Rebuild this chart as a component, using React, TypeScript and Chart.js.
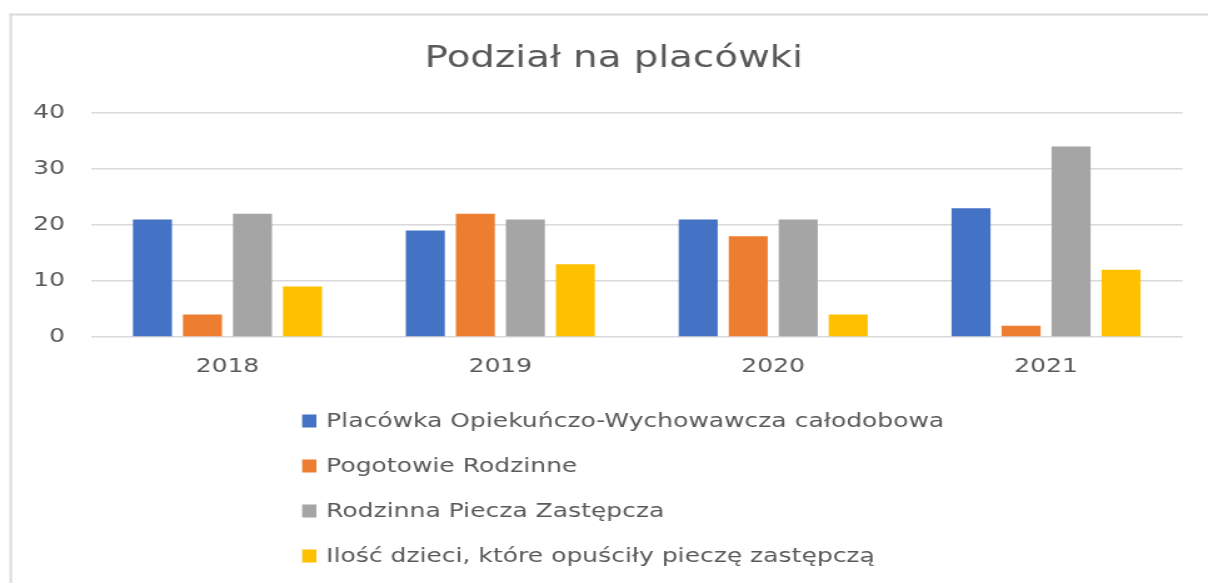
import React, { useEffect, useRef } from "react";
import { Chart, registerables } from "chart.js";

Chart.register(...registerables);

const categories = ["2018", "2019", "2020", "2021"];
const seriesNames = [
  "Placówka Opiekuńczo-Wychowawcza całodobowa",
  "Pogotowie Rodzinne",
  "Rodzinna Piecza Zastępcza",
  "Ilość dzieci, które opuściły pieczę zastępczą",
];
const placowkaValues = [21, 19, 21, 23];
const pogotowieValues = [4, 22, 18, 2];
const rodzinnaValues = [22, 21, 21, 34];
const opuscilyValues = [9, 13, 4, 12];
const yTickValues = [0, 10, 20, 30, 40];
const seriesColors = ["#4472C4", "#ED7D31", "#A5A5A5", "#FFC000"];
const titleText = "Podział na placówki";

const CANVAS_W = 966;
const CANVAS_H = 583;
const STRETCH = 1208 / CANVAS_W;
const TEXT_COLOR = "#595959";
const FONT = '"DejaVu Sans", "Open Sans", sans-serif';

const framePlugin = {
  id: "frame",
  beforeDraw(chart: any) {
    const ctx = chart.ctx;
    ctx.save();
    ctx.fillStyle = "#d9d9d9";
    ctx.fillRect(7.6, 13.5, chart.width, 2);
    ctx.fillRect(7.6, 13.5, 2, chart.height);
    ctx.restore();
  },
};

const titlePlugin = {
  id: "customTitle",
  afterDraw(chart: any) {
    const ctx = chart.ctx;
    ctx.save();
    ctx.font = `31px ${FONT}`;
    ctx.fillStyle = TEXT_COLOR;
    ctx.textAlign = "center";
    ctx.textBaseline = "middle";
    ctx.fillText(titleText, 490.8, 59);
    ctx.restore();
  },
};

const legendRows = [421, 466, 511, 556];

const verticalLegendPlugin = {
  id: "verticalLegend",
  afterDraw(chart: any) {
    const ctx = chart.ctx;
    ctx.save();
    ctx.font = `20px ${FONT}`;
    ctx.textBaseline = "middle";
    ctx.textAlign = "left";
    chart.data.datasets.forEach((ds: any, i: number) => {
      const y = legendRows[i];
      ctx.fillStyle = ds.backgroundColor;
      ctx.fillRect(241.6, y - 6.5, 11.4, 13);
      ctx.fillStyle = TEXT_COLOR;
      ctx.fillText(ds.label, 260.8, y + 1);
    });
    ctx.restore();
  },
};

export default function App() {
  const ref = useRef<HTMLCanvasElement>(null);

  useEffect(() => {
    const valueSets = [placowkaValues, pogotowieValues, rodzinnaValues, opuscilyValues];
    const chart = new Chart(ref.current as HTMLCanvasElement, {
      type: "bar",
      data: {
        labels: categories,
        datasets: seriesNames.map((name, i) => ({
          label: name,
          data: valueSets[i],
          backgroundColor: seriesColors[i],
          borderWidth: 0,
          barPercentage: 0.78,
          categoryPercentage: 0.733,
        })),
      },
      options: {
        responsive: false,
        animation: false,
        devicePixelRatio: 1,
        layout: { padding: { left: 0, right: 20.4, top: 113, bottom: 0 } },
        plugins: {
          legend: { display: false },
          tooltip: { enabled: false },
          title: { display: false },
        },
        scales: {
          x: {
            grid: { display: false },
            border: { display: false },
            ticks: { color: TEXT_COLOR, font: { family: FONT, size: 20 }, padding: 10 },
            afterFit: (s: any) => {
              s.height = 246;
            },
          },
          y: {
            min: 0,
            max: 40,
            grid: { color: "#d9d9d9", lineWidth: 1.5, drawTicks: false },
            border: { display: false },
            ticks: { color: TEXT_COLOR, font: { family: FONT, size: 20 }, padding: 20.8 },
            afterBuildTicks: (s: any) => {
              s.ticks = yTickValues.map((v) => ({ value: v }));
            },
            afterFit: (s: any) => {
              s.width = 72.8;
            },
          },
        },
      },
      plugins: [framePlugin, titlePlugin, verticalLegendPlugin],
    });
    return () => chart.destroy();
  }, []);

  return (
    <div
      style={{
        position: "fixed",
        left: 0,
        top: 0,
        width: 1208,
        height: 583,
        overflow: "hidden",
        background: "#ffffff",
      }}
    >
      <canvas
        ref={ref}
        width={CANVAS_W}
        height={CANVAS_H}
        style={{
          display: "block",
          width: CANVAS_W,
          height: CANVAS_H,
          transform: `scaleX(${STRETCH})`,
          transformOrigin: "0 0",
        }}
      />
    </div>
  );
}
